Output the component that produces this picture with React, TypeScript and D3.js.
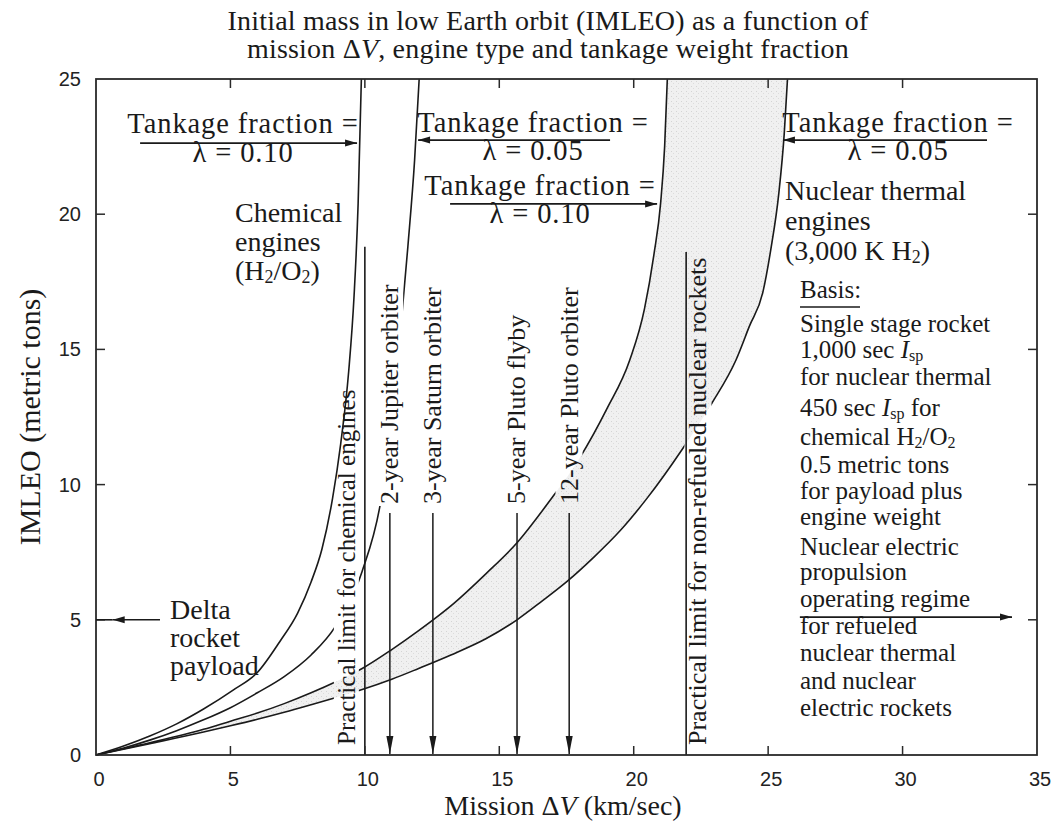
import React, { useEffect, useRef } from "react";
import * as d3 from "d3";

const W = 1055;
const H = 829;
const SERIF = "'Liberation Serif', 'Times New Roman', Times, serif";
const SANS = "'Liberation Sans', Arial, Helvetica, sans-serif";

// IMLEO (metric tons) vs mission ΔV (km/s) for each engine / tankage case
const chemical10: [number, number][] = [
  [0, 0], [1, 0.32], [2, 0.7], [3, 1.15], [4, 1.7], [5.1, 2.4], [6, 3.05], [6.84, 4.2],
  [7.5, 5.25], [8.0, 6.4], [8.4, 7.6], [8.8, 9.5], [9.1, 11.5], [9.4, 14.2], [9.6, 17.0],
  [9.75, 20.4], [9.87, 25],
];
const chemical05: [number, number][] = [
  [0, 0], [1, 0.25], [2, 0.55], [3, 0.9], [4, 1.3], [5, 1.75], [6, 2.3], [7, 2.9], [8, 3.7],
  [8.9, 4.75], [9.9, 6.8], [10.56, 9.2], [11, 12.2], [11.3, 15.4], [11.6, 18.8], [11.85, 22],
  [12.02, 25],
];
const nuclear10: [number, number][] = [
  [0, 0], [2, 0.45], [4, 0.95], [5, 1.25], [6, 1.55], [7, 1.9], [8, 2.3], [8.9, 2.7], [9.9, 3.2],
  [11, 3.9], [12, 4.6], [13.3, 5.6], [14.5, 6.7], [15.66, 7.85], [16.8, 9.3], [18, 11.0],
  [19, 12.8], [19.85, 14.6], [20.4, 16.5], [20.75, 18.5], [21.0, 20.4], [21.15, 22.5], [21.25, 25],
];
const nuclear05: [number, number][] = [
  [0, 0], [2, 0.42], [4, 0.85], [5, 1.08], [6, 1.32], [7, 1.58], [8, 1.86], [8.9, 2.12],
  [9.9, 2.42], [11, 2.8], [12, 3.2], [13.2, 3.7], [14.5, 4.3], [15.66, 5.0], [16.6, 5.7],
  [17.5, 6.4], [18.5, 7.3], [19.5, 8.3], [20.5, 9.5], [21.8, 11.3], [22.9, 13.0], [23.8, 14.6],
  [24.3, 15.85], [24.8, 17.1], [25.1, 18.7], [25.4, 20.8], [25.6, 23], [25.72, 25],
];

const xTicks = [0, 5, 10, 15, 20, 25, 30, 35];
const yTicks = [0, 5, 10, 15, 20, 25];

// Mission ΔV requirements (km/s)
const missions = [
  { label: "2-year Jupiter orbiter", dv: 10.93 },
  { label: "3-year Saturn orbiter", dv: 12.53 },
  { label: "5-year Pluto flyby", dv: 15.66 },
  { label: "12-year Pluto orbiter", dv: 17.6 },
];
const missionArrowTop = 8.95;

// Practical ΔV limits (km/s) with the height where each marker line starts
const limits = [
  { label: "Practical limit for chemical engines", dv: 10.0, top: 18.8, side: -1 },
  { label: "Practical limit for non-refueled nuclear rockets", dv: 21.95, top: 18.6, side: 1 },
];

type Seg = { t: string; i?: boolean; sub?: boolean };

export default function App() {
  const ref = useRef<SVGSVGElement>(null);

  useEffect(() => {
    document.body.style.margin = "0";
    const svg = d3.select(ref.current!);
    svg.selectAll("*").remove();

    const x = d3.scaleLinear().domain([0, 35]).range([96, 1037]);
    const y = d3.scaleLinear().domain([0, 25]).range([755, 79]);
    const ink = "#1a1a1a";

    const defs = svg.append("defs");

    const pat = defs.append("pattern").attr("id", "stipple")
      .attr("width", 5).attr("height", 5).attr("patternUnits", "userSpaceOnUse");
    pat.append("rect").attr("width", 5).attr("height", 5).attr("fill", "#f0f0f0");
    pat.append("rect").attr("x", 1).attr("y", 1).attr("width", 1).attr("height", 1).attr("fill", "#d4d4d4");
    pat.append("rect").attr("x", 3).attr("y", 3).attr("width", 1).attr("height", 1).attr("fill", "#dcdcdc");

    const marker = (id: string, len: number, half: number) => {
      defs.append("marker").attr("id", id)
        .attr("markerUnits", "userSpaceOnUse").attr("markerWidth", 40).attr("markerHeight", 40)
        .attr("refX", 0).attr("refY", 0).attr("orient", "auto").style("overflow", "visible")
        .append("path").attr("d", `M0,0 L${-len},${-half} L${-len},${half} Z`).attr("fill", ink);
    };
    marker("head", 12, 3.5);
    marker("headLong", 18, 3.5);

    const mask = defs.append("mask").attr("id", "knock").attr("maskUnits", "userSpaceOnUse")
      .attr("x", 0).attr("y", 0).attr("width", W).attr("height", H);
    mask.append("rect").attr("width", W).attr("height", H).attr("fill", "white");

    // Band between the two nuclear curves
    const line = d3.line<[number, number]>().x((d) => x(d[0])).y((d) => y(d[1])).curve(d3.curveMonotoneX);
    const upperPath = line(nuclear10)!;
    const lowerPath = line(nuclear05)!;
    defs.append("clipPath").attr("id", "belowUpper").append("path")
      .attr("d", `${upperPath} L${x(35)},${y(25)} L${x(35)},${y(0)} Z`);
    svg.append("path")
      .attr("d", `${lowerPath} L${x(0)},${y(25)} Z`)
      .attr("fill", "url(#stipple)")
      .attr("clip-path", "url(#belowUpper)");

    // Curves
    svg.append("path").attr("d", line(chemical10)!).attr("fill", "none")
      .attr("stroke", ink).attr("stroke-width", 1.6);
    const masked = svg.append("g").attr("mask", "url(#knock)");
    [chemical05, nuclear10, nuclear05].forEach((s) => {
      masked.append("path").attr("d", line(s)!).attr("fill", "none")
        .attr("stroke", ink).attr("stroke-width", 1.6);
    });

    const rotLabel = (label: string, xc: number, yBottom: number, size: number) => {
      const tr = `translate(${xc + size * 0.32},${yBottom}) rotate(-90)`;
      const t = svg.append("text").attr("transform", tr).attr("font-size", size)
        .attr("font-family", SERIF).attr("fill", ink).text(label);
      const bb = (t.node() as SVGTextElement).getBBox();
      mask.append("rect").attr("transform", tr)
        .attr("x", bb.x - 2).attr("y", bb.y + 1).attr("width", bb.width + 4).attr("height", bb.height - 2)
        .attr("fill", "black");
    };

    // Practical limit lines
    limits.forEach((l) => {
      svg.append("line").attr("x1", x(l.dv)).attr("x2", x(l.dv))
        .attr("y1", y(l.top)).attr("y2", y(0)).attr("stroke", ink).attr("stroke-width", 1.6);
      const xc = l.side < 0 ? x(l.dv) - 18 : x(l.dv) + 12;
      rotLabel(l.label, xc, 745, l.side < 0 ? 25 : 26);
    });

    // Mission arrows
    missions.forEach((m) => {
      svg.append("line").attr("x1", x(m.dv)).attr("x2", x(m.dv))
        .attr("y1", y(missionArrowTop)).attr("y2", y(0) - 1)
        .attr("stroke", ink).attr("stroke-width", 1.5).attr("marker-end", "url(#headLong)");
      rotLabel(m.label, x(m.dv), 504, 26);
    });

    // Frame and inward ticks
    svg.append("rect").attr("x", x(0)).attr("y", y(25)).attr("width", x(35) - x(0))
      .attr("height", y(0) - y(25)).attr("fill", "none").attr("stroke", "#2a2a2a").attr("stroke-width", 1.8);
    const tk = 9;
    xTicks.filter((v) => v > 0 && v < 35).forEach((v) => {
      svg.append("line").attr("x1", x(v)).attr("x2", x(v)).attr("y1", y(0)).attr("y2", y(0) - tk)
        .attr("stroke", "#2a2a2a").attr("stroke-width", 1.5);
      svg.append("line").attr("x1", x(v)).attr("x2", x(v)).attr("y1", y(25)).attr("y2", y(25) + tk)
        .attr("stroke", "#2a2a2a").attr("stroke-width", 1.5);
    });
    yTicks.filter((v) => v > 0 && v < 25).forEach((v) => {
      svg.append("line").attr("x1", x(0)).attr("x2", x(0) + tk).attr("y1", y(v)).attr("y2", y(v))
        .attr("stroke", "#2a2a2a").attr("stroke-width", 1.5);
      svg.append("line").attr("x1", x(35)).attr("x2", x(35) - tk).attr("y1", y(v)).attr("y2", y(v))
        .attr("stroke", "#2a2a2a").attr("stroke-width", 1.5);
    });

    // Tick labels
    xTicks.forEach((v) => {
      svg.append("text").attr("x", x(v) + 3).attr("y", 786).attr("text-anchor", "middle")
        .attr("font-family", SANS).attr("font-size", 20).attr("fill", "#222").text(String(v));
    });
    yTicks.forEach((v) => {
      svg.append("text").attr("x", 81).attr("y", y(v) + 7).attr("text-anchor", "end")
        .attr("font-family", SANS).attr("font-size", 20).attr("fill", "#222").text(String(v));
    });

    // Rich text helper
    const rich = (lines: Seg[][], tx: number, y0: number, lh: number | number[], size: number,
      anchor = "start", spacing = 0) => {
      lines.forEach((segs, k) => {
        const yy = Array.isArray(lh) ? lh[k] : y0 + k * lh;
        const t = svg.append("text").attr("x", tx).attr("y", yy).attr("font-size", size)
          .attr("font-family", SERIF).attr("fill", ink).attr("text-anchor", anchor)
          .attr("letter-spacing", spacing);
        let shifted = false;
        segs.forEach((s) => {
          const ts = t.append("tspan").text(s.t);
          if (s.i) ts.attr("font-style", "italic");
          if (s.sub) {
            ts.attr("font-size", size * 0.64);
            if (!shifted) { ts.attr("dy", size * 0.12); shifted = true; }
          } else if (shifted) {
            ts.attr("dy", -size * 0.12);
            shifted = false;
          }
        });
      });
    };

    // Title
    rich([[{ t: "Initial mass in low Earth orbit (IMLEO) as a function of" }]], 548, 30, 28, 28, "middle", 0.2);
    rich([[{ t: "mission Δ" }, { t: "V", i: true }, { t: ", engine type and tankage weight fraction" }]],
      548, 58, 28, 28, "middle", 0.2);

    // Axis titles
    rich([[{ t: "Mission Δ" }, { t: "V", i: true }, { t: " (km/sec)" }]], 563, 815, 28, 28, "middle");
    svg.append("text").attr("transform", "translate(40,417) rotate(-90)").attr("text-anchor", "middle")
      .attr("font-family", SERIF).attr("font-size", 30).attr("fill", ink).text("IMLEO (metric tons)");

    // Tankage fraction callouts
    const callouts = [
      { cx: 243, b1: 133, b2: 162, lam: "0.10", a: [1.64, 9.71], ay: 22.63 },
      { cx: 533, b1: 132, b2: 160, lam: "0.05", a: [19.12, 11.98], ay: 22.74 },
      { cx: 540, b1: 195, b2: 223, lam: "0.10", a: [13.17, 20.87], ay: 20.38 },
      { cx: 898, b1: 132, b2: 160, lam: "0.05", a: [33.14, 25.55], ay: 22.74 },
    ];
    callouts.forEach((c) => {
      rich([[{ t: "Tankage fraction =" }], [{ t: "λ = " + c.lam }]], c.cx, 0, [c.b1, c.b2], 28.5, "middle", 0.9);
      svg.append("line").attr("x1", x(c.a[0])).attr("x2", x(c.a[1])).attr("y1", y(c.ay)).attr("y2", y(c.ay))
        .attr("stroke", ink).attr("stroke-width", 1.6).attr("marker-end", "url(#head)");
    });

    // Engine labels
    rich([[{ t: "Chemical" }], [{ t: "engines" }],
      [{ t: "(H" }, { t: "2", sub: true }, { t: "/O" }, { t: "2", sub: true }, { t: ")" }]], 235, 222, 29, 28);
    rich([[{ t: "Nuclear thermal" }], [{ t: "engines" }],
      [{ t: "(3,000 K H" }, { t: "2", sub: true }, { t: ")" }]], 785, 200, 30, 28);

    // Delta payload marker
    rich([[{ t: "Delta" }], [{ t: "rocket" }], [{ t: "payload" }]], 170, 619, 28, 28);
    svg.append("line").attr("x1", x(2.38)).attr("x2", x(0.62)).attr("y1", y(5)).attr("y2", y(5))
      .attr("stroke", ink).attr("stroke-width", 1.6).attr("marker-end", "url(#head)");
    svg.append("line").attr("x1", x(0.62)).attr("x2", x(0)).attr("y1", y(5)).attr("y2", y(5))
      .attr("stroke", ink).attr("stroke-width", 1.6);

    // Basis notes
    rich([[{ t: "Basis:" }]], 800, 298, 27, 25);
    svg.append("line").attr("x1", 800).attr("x2", 860).attr("y1", 307).attr("y2", 307)
      .attr("stroke", ink).attr("stroke-width", 1.5);
    const isp: Seg[] = [{ t: "I", i: true }, { t: "sp", sub: true }];
    rich([
      [{ t: "Single stage rocket" }],
      [{ t: "1,000 sec " }, ...isp],
      [{ t: "for nuclear thermal" }],
      [{ t: "450 sec " }, ...isp, { t: " for" }],
      [{ t: "chemical H" }, { t: "2", sub: true }, { t: "/O" }, { t: "2", sub: true }],
      [{ t: "0.5 metric tons" }],
      [{ t: "for payload plus" }],
      [{ t: "engine weight" }],
      [{ t: "Nuclear electric" }],
      [{ t: "propulsion" }],
      [{ t: "operating regime" }],
      [{ t: "for refueled" }],
      [{ t: "nuclear thermal" }],
      [{ t: "and nuclear" }],
      [{ t: "electric rockets" }],
    ], 800, 0, [332, 358, 385, 416, 445, 473, 499, 525, 555, 580, 607, 634, 661, 689, 716], 25);
    svg.append("line").attr("x1", x(26.18)).attr("x2", x(34.07)).attr("y1", y(5.1)).attr("y2", y(5.1))
      .attr("stroke", ink).attr("stroke-width", 1.6).attr("marker-end", "url(#head)");
  }, []);

  return <svg ref={ref} width={W} height={H} style={{ display: "block", background: "#fff" }} />;
}
